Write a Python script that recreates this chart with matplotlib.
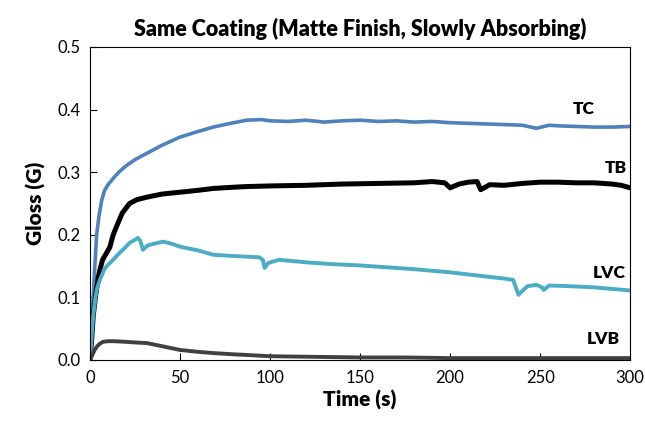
import matplotlib
matplotlib.use('Agg')
import matplotlib.pyplot as plt

plt.rcParams['font.family'] = ['Lato', 'DejaVu Sans']

# gloss readings vs time for the four samples
tc_t = [0, 0.5, 1, 1.8, 2.7, 3.7, 5, 6.5, 8, 10, 12.9, 16, 20, 25, 31.5, 40, 50, 60, 68.5, 78,
        87, 95, 100, 110, 120, 130, 140, 150, 160, 170, 180, 190, 200, 210, 220, 230, 240,
        248, 255, 260, 270, 280, 290, 300]
tc_g = [0, 0.03, 0.06, 0.10, 0.15, 0.20, 0.23, 0.255, 0.27, 0.28, 0.29, 0.30, 0.31, 0.32, 0.33,
        0.343, 0.356, 0.365, 0.372, 0.378, 0.383, 0.384, 0.382, 0.381, 0.383, 0.380, 0.382,
        0.383, 0.381, 0.382, 0.380, 0.381, 0.379, 0.378, 0.377, 0.376, 0.375, 0.370, 0.375,
        0.374, 0.373, 0.372, 0.372, 0.373]

tb_t = [0, 1, 1.8, 3, 4.5, 5.5, 7, 9, 11, 12.9, 15, 18, 22, 26, 31.5, 40, 50, 60, 68.5, 80,
        87, 100, 120, 140, 160, 180, 190, 197, 200, 205, 210, 215, 217, 222, 230, 240, 250,
        260, 270, 280, 290, 295, 300]
tb_g = [0, 0.035, 0.07, 0.10, 0.13, 0.144, 0.16, 0.17, 0.18, 0.20, 0.215, 0.235, 0.25, 0.256,
        0.26, 0.265, 0.268, 0.271, 0.274, 0.276, 0.277, 0.278, 0.279, 0.281, 0.282, 0.283,
        0.285, 0.283, 0.275, 0.281, 0.284, 0.285, 0.272, 0.280, 0.279, 0.282, 0.284, 0.284,
        0.283, 0.283, 0.281, 0.279, 0.275]

lvc_t = [0, 1, 1.8, 3, 4, 5.5, 8, 10, 12.9, 16, 19, 22, 25, 26.6, 28, 29.4, 32, 36, 40.6, 45,
         50, 60, 68.5, 80, 87, 94, 96, 97, 99, 105, 120, 135, 150, 165, 180, 200, 215, 230,
         235, 237, 238, 240, 243, 248, 251, 252, 255, 265, 280, 300]
lvc_g = [0, 0.04, 0.07, 0.10, 0.115, 0.128, 0.145, 0.152, 0.16, 0.17, 0.178, 0.187, 0.192,
         0.195, 0.19, 0.176, 0.183, 0.186, 0.189, 0.186, 0.181, 0.175, 0.168, 0.166, 0.165,
         0.164, 0.160, 0.147, 0.155, 0.160, 0.156, 0.153, 0.151, 0.148, 0.145, 0.140, 0.135,
         0.130, 0.128, 0.112, 0.104, 0.110, 0.118, 0.120, 0.116, 0.112, 0.119, 0.118, 0.116,
         0.111]

lvb_t = [0, 1, 2.6, 4, 5.5, 7.2, 10, 13, 20, 25, 31.5, 40, 50, 60, 68.5, 80, 87, 100, 125,
         150, 175, 200, 250, 300]
lvb_g = [0, 0.006, 0.016, 0.022, 0.026, 0.029, 0.030, 0.030, 0.029, 0.028, 0.027, 0.022,
         0.016, 0.013, 0.011, 0.009, 0.008, 0.006, 0.005, 0.004, 0.004, 0.003, 0.003, 0.003]

fig = plt.figure(figsize=(6.45, 4.23), dpi=100)
ax = fig.add_axes([0.1395, 0.149, 0.8375, 0.74])

ax.plot(tc_t, tc_g, color='#4f81bd', lw=2.6, solid_capstyle='round')
ax.plot(tb_t, tb_g, color='black', lw=3.6, solid_capstyle='round')
ax.plot(lvc_t, lvc_g, color='#4bacc6', lw=2.8, solid_capstyle='round')
ax.plot(lvb_t, lvb_g, color='#404040', lw=2.8, solid_capstyle='round')

# series names placed at the right end of each curve
lab = dict(fontsize=12.5, fontweight='heavy')
ax.text(268, 0.393, 'TC', **lab)
ax.text(286, 0.299, 'TB', **lab)
ax.text(279, 0.131, 'LVC', **lab)
ax.text(276, 0.025, 'LVB', **lab)

ax.set_xlim(0, 300)
ax.set_ylim(0, 0.5)
ax.set_xticks(range(0, 301, 50))
ax.set_yticks([0, 0.1, 0.2, 0.3, 0.4, 0.5])
ax.set_yticklabels(['0.0', '0.1', '0.2', '0.3', '0.4', '0.5'])
ax.tick_params(direction='in', length=5, width=0.8, labelsize=12, pad=7)
for s in ax.spines.values():
    s.set_linewidth(0.8)

ax.set_xlabel('Time (s)', fontsize=15, fontweight='heavy', labelpad=3)
ax.set_ylabel('Gloss (G)', fontsize=15, fontweight='heavy', labelpad=8)
ax.set_title('Same Coating (Matte Finish, Slowly Absorbing)', fontsize=15.5,
             fontweight='heavy', pad=8)

fig.savefig('out.png', dpi=100)
